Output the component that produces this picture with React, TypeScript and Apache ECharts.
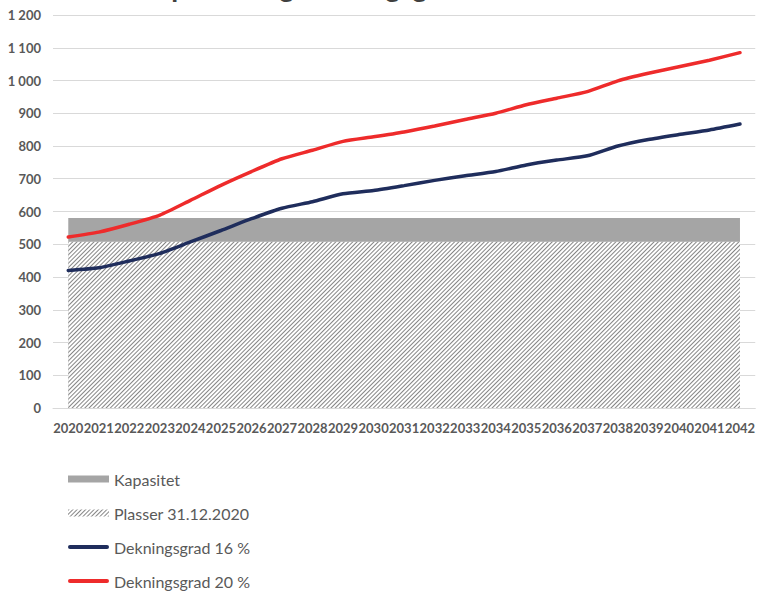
import React, { useEffect, useRef } from "react";
import * as echarts from "echarts";

// Years on the category axis
const years = [
  "2020", "2021", "2022", "2023", "2024", "2025", "2026", "2027",
  "2028", "2029", "2030", "2031", "2032", "2033", "2034", "2035",
  "2036", "2037", "2038", "2039", "2040", "2041", "2042",
];

// Total capacity (places)
const kapasitet = [
  580, 580, 580, 580, 580, 580, 580, 580, 580, 580, 580, 580,
  580, 580, 580, 580, 580, 580, 580, 580, 580, 580, 580,
];

// Places in use at 31.12.2020
const plasser = [
  508, 508, 508, 508, 508, 508, 508, 508, 508, 508, 508, 508,
  508, 508, 508, 508, 508, 508, 508, 508, 508, 508, 508,
];

// Required places at 16 % coverage
const dekning16 = [
  420, 428, 449, 472, 507, 542, 578, 610, 630, 654, 664, 679,
  695, 709, 722, 742, 757, 770, 800, 820, 835, 849, 867,
];

// Required places at 20 % coverage
const dekning20 = [
  522, 537, 561, 589, 634, 680, 722, 761, 787, 814, 828, 843,
  861, 881, 900, 926, 946, 966, 999, 1022, 1042, 1062, 1085,
];

const seriesNames = [
  "Kapasitet",
  "Plasser 31.12.2020",
  "Dekningsgrad 16 %",
  "Dekningsgrad 20 %",
];

const titleText = "Kapasitet og dekningsgrad";

const FONT = "Lato, 'Liberation Sans', sans-serif";
const LABEL = "#595959";
const GREY = "#a5a5a5";
const NAVY = "#1f2d5c";
const RED = "#ee2b2b";

// Diagonal hatching used for the places area and its legend swatch
const hatch = {
  symbol: "rect",
  symbolSize: 1,
  color: "#858585",
  backgroundColor: "#ffffff",
  dashArrayX: [1, 0],
  dashArrayY: [1, 2],
  rotation: -Math.PI / 4,
};

// Thick rounded bar for the line entries in the legend
const lineIcon = "path://M2,0 H39 A2,2 0 0 1 39,4 H2 A2,2 0 0 1 2,0 Z";

const spaced = (v: number) => String(v).replace(/\B(?=(\d{3})+(?!\d))/g, " ");

export default function App() {
  const ref = useRef<HTMLDivElement>(null);

  useEffect(() => {
    if (!ref.current) return;
    const chart = echarts.init(ref.current, undefined, { renderer: "svg" });

    chart.setOption({
      animation: false,
      backgroundColor: "#ffffff",
      textStyle: { fontFamily: FONT },
      title: {
        text: titleText,
        left: 138,
        top: -28,
        padding: 0,
        textStyle: { fontFamily: FONT, fontWeight: "bold", fontSize: 28, color: "#404040" },
      },
      grid: { left: 53, right: 0, top: 15, bottom: 184, containLabel: false },
      xAxis: {
        type: "category",
        data: years,
        boundaryGap: true,
        axisLine: { show: true, lineStyle: { color: "#d9d9d9", width: 1 } },
        axisTick: { show: false },
        axisLabel: {
          interval: 0,
          margin: 13,
          color: LABEL,
          fontFamily: FONT,
          fontWeight: "bold",
          fontSize: 13,
        },
        splitLine: { show: false },
      },
      yAxis: {
        type: "value",
        min: 0,
        max: 1200,
        interval: 100,
        axisLine: { show: false },
        axisTick: { show: false },
        axisLabel: {
          margin: 12,
          color: LABEL,
          fontFamily: FONT,
          fontWeight: "bold",
          fontSize: 13,
          formatter: (v: number) => spaced(v),
        },
        splitLine: { lineStyle: { color: "#d9d9d9", width: 1 } },
      },
      legend: {
        orient: "vertical",
        left: 68,
        top: 471,
        width: 300,
        height: 130,
        padding: 0,
        itemWidth: 41,
        itemHeight: 7,
        itemGap: 18,
        textStyle: { color: LABEL, fontSize: 16, fontFamily: FONT },
        data: [
          { name: seriesNames[0], icon: "rect", itemStyle: { color: GREY } },
          { name: seriesNames[1], icon: "rect", itemStyle: { color: "#ffffff", decal: hatch } },
          { name: seriesNames[2], icon: lineIcon, itemStyle: { color: NAVY } },
          { name: seriesNames[3], icon: lineIcon, itemStyle: { color: RED } },
        ],
      },
      series: [
        {
          name: seriesNames[0],
          type: "line",
          data: kapasitet,
          symbol: "none",
          color: GREY,
          lineStyle: { width: 0 },
          areaStyle: { color: GREY, opacity: 1 },
          z: 1,
        },
        {
          name: seriesNames[1],
          type: "line",
          data: plasser,
          symbol: "none",
          color: "#ffffff",
          lineStyle: { width: 0, decal: hatch },
          itemStyle: { decal: hatch },
          areaStyle: { color: "#ffffff", opacity: 1 },
          z: 2,
        },
        {
          name: seriesNames[2],
          type: "line",
          data: dekning16,
          symbol: "none",
          smooth: 0.2,
          color: NAVY,
          lineStyle: { width: 3.5, color: NAVY, cap: "round" },
          z: 3,
        },
        {
          name: seriesNames[3],
          type: "line",
          data: dekning20,
          symbol: "none",
          smooth: 0.2,
          color: RED,
          lineStyle: { width: 3.5, color: RED, cap: "round" },
          z: 4,
        },
      ],
    });

    return () => chart.dispose();
  }, []);

  return (
    <div
      ref={ref}
      style={{ position: "fixed", left: 0, top: 0, width: 758, height: 592, background: "#fff" }}
    />
  );
}
